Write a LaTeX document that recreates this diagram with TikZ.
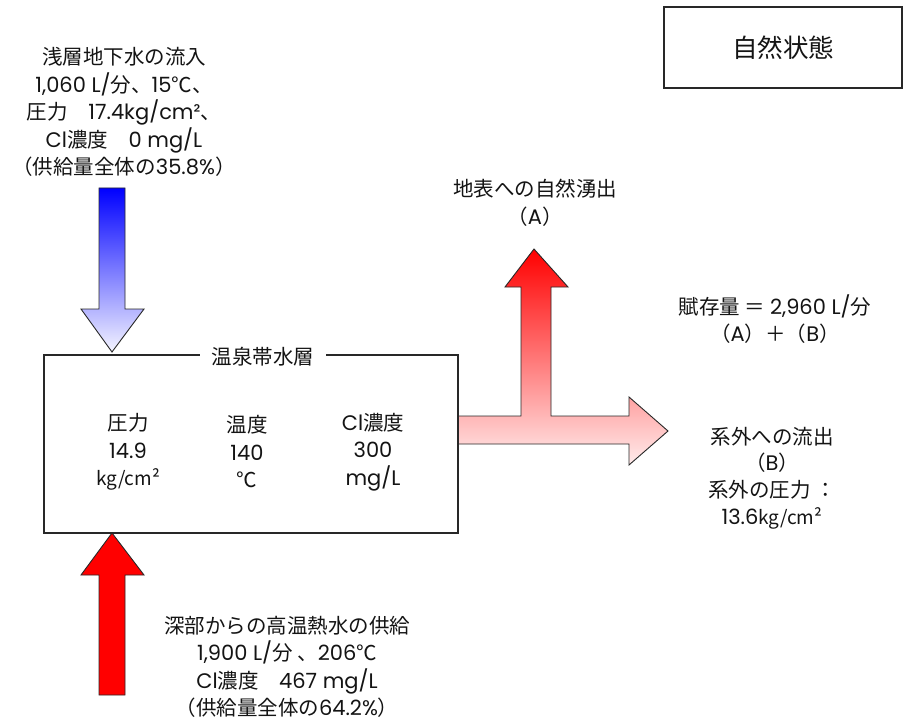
\documentclass[tikz,border=0pt]{standalone}
\usepackage{fontspec}
\setmainfont{Noto Sans CJK JP}
\newfontfamily\lat{Poppins}
\newcommand{\la}[1]{{\lat\fontsize{21}{27.5}\selectfont #1}}
\newcommand{\unitkg}{{\fontsize{19}{27}\selectfont kg/cm²}}
\definecolor{edge}{RGB}{40,40,40}
\definecolor{txt}{RGB}{20,20,20}
\definecolor{blueTop}{RGB}{0,0,255}
\definecolor{blueBot}{RGB}{244,244,255}
\definecolor{redTop}{RGB}{255,0,0}
\definecolor{redBot}{RGB}{255,236,236}
\tikzset{
  lbl/.style={align=center, text=txt, inner sep=0pt, font=\fontsize{20.5}{27.5}\selectfont},
  boxed/.style={draw=edge, line width=1.1pt, rectangle, inner sep=0pt},
  blockarrow/.style={draw=edge, line width=0.9pt, line join=miter}
}
\begin{document}
\begin{tikzpicture}[x=1pt,y=-1pt]
\useasboundingbox[fill=white] (0,0) rectangle (904,722);

% blue downward arrow (shallow groundwater inflow)
\shadedraw[blockarrow, top color=blueTop, bottom color=blueBot]
  (99,188) -- (125,188) -- (125,309) -- (144,309) -- (112,352) -- (81,309) -- (99,309) -- cycle;

% red upward arrow (deep hot water supply)
\filldraw[blockarrow, fill=redTop]
  (99,695) -- (125,695) -- (125,575) -- (144,575) -- (112,533) -- (81,575) -- (99,575) -- cycle;

% T-shaped outflow arrow
\shadedraw[blockarrow, top color=redTop, bottom color=redBot]
  (458,416) -- (521,416) -- (521,287) -- (505,287) -- (534,249) -- (568,287) -- (551,287)
  -- (551,416) -- (629,416) -- (629,397) -- (668,431) -- (629,465) -- (629,444) -- (458,444) -- cycle;

% aquifer box
\node[boxed, minimum width=414pt, minimum height=178pt] (aq) at (251,444) {};
\node[lbl, fill=white, inner xsep=12pt, inner ysep=2pt] (aqt) at (263,357) {温泉帯水層};
\node[lbl] (p) at (128,452) {圧力\\\la{14.9}\\\unitkg};
\node[lbl] (t) at (247,452) {温度\\\la{140}\\℃};
\node[lbl] (c) at (373,452) {\la{Cl}濃度\\\la{300}\\\la{mg/L}};

% state box
\node[boxed, minimum width=238pt, minimum height=81pt, font=\fontsize{25.5}{28}\selectfont, text=txt] (state) at (783,47.5) {自然状態};

% labels
\node[lbl] (shallow) at (124,112) {浅層地下水の流入\\\la{1,060 L/}分、\la{15}℃、\\圧力\quad \la{17.4kg/cm²}、\\\la{Cl}濃度\quad \la{0 mg/L}\\（供給量全体の\la{35.8\%}）};
\node[lbl] (deep) at (287,667) {深部からの高温熱水の供給\\\la{1,900 L/}分 、\la{206}℃\\\la{Cl}濃度\quad \la{467 mg/L}\\（供給量全体の\la{64.2\%}）};
\node[lbl] (surf) at (535,203) {地表への自然湧出\\（\la{A}）};
\node[lbl] (res) at (775,319) {賦存量 ＝ \la{2,960 L/}分\\（\la{A}）＋（\la{B}）};
\node[lbl, font=\fontsize{20.5}{26.7}\selectfont] (out) at (772,478) {系外への流出\\（\la{B}）\\系外の圧力 ：\\\la{13.6}\unitkg};
\end{tikzpicture}
\end{document}
